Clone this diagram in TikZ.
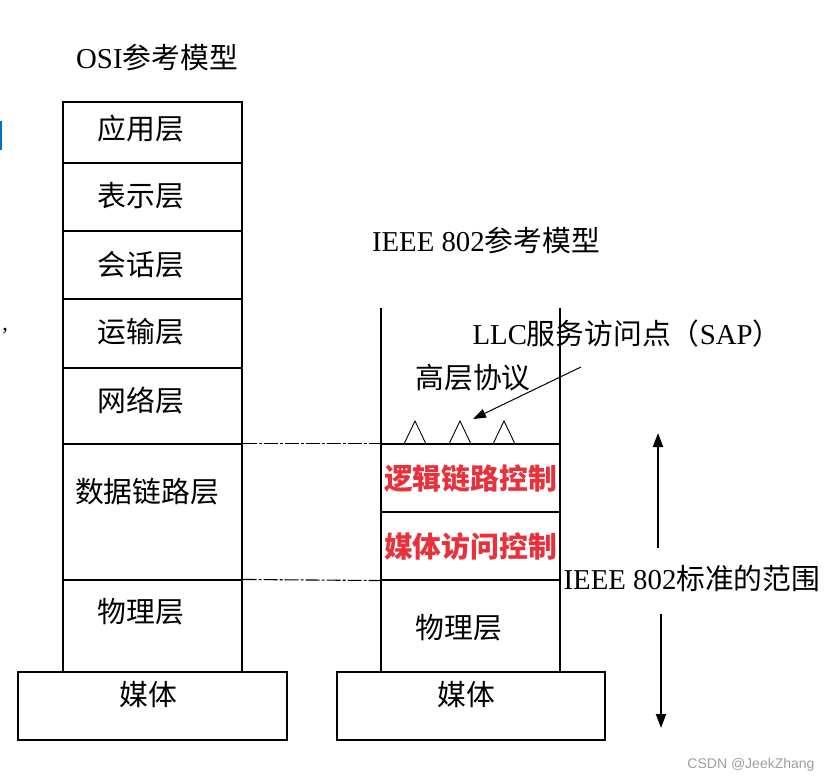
\documentclass[tikz,border=0pt]{standalone}
\usepackage{fontspec}
\setmainfont{Liberation Serif}
\newfontfamily\cjk{Noto Sans CJK SC}
\newfontfamily\wmfont{Liberation Sans}
\usetikzlibrary{arrows.meta}
\definecolor{ctrlred}{HTML}{E8313A}
\definecolor{edgeblue}{HTML}{0070C0}

\begin{document}
\begin{tikzpicture}[
    x=1pt, y=-1pt,
    layer/.style={draw, line width=1.1pt, minimum width=179pt, inner sep=0pt},
    medium/.style={draw, line width=1.1pt, minimum height=68pt, inner sep=0pt},
    lbl/.style={inner sep=0pt, text height=25.5pt, text depth=3pt, font=\fontsize{28.8}{30}\selectfont},
    ctrl/.style={layer, text=ctrlred, text height=25.5pt, text depth=3pt, font=\fontsize{28.8}{30}\selectfont\cjk\bfseries},
    guide/.style={line width=1.1pt, dash pattern=on 14pt off 2pt on 3pt off 2pt},
    >={Triangle[length=14pt,width=10pt]}
]
\useasboundingbox (0,0) rectangle (828,782);

% OSI stack
\node[lbl] (osititle) at (157,57) {OSI{\cjk 参考模型}};
\node[layer, minimum height=61pt] (app)   at (152.5,132.5) {};
\node[layer, minimum height=68pt] (pres)  at (152.5,197) {};
\node[layer, minimum height=68pt] (sess)  at (152.5,265) {};
\node[layer, minimum height=69pt] (trans) at (152.5,333.5) {};
\node[layer, minimum height=76pt] (net)   at (152.5,406) {};
\node[layer, minimum height=136pt] (dl)   at (152.5,512) {};
\node[layer, minimum height=92pt] (phy)   at (152.5,626) {};
\node[lbl] at (141,128) {\cjk 应用层};
\node[lbl] at (141,195) {\cjk 表示层};
\node[lbl] at (141,264) {\cjk 会话层};
\node[lbl] at (141,331) {\cjk 运输层};
\node[lbl] at (141,400) {\cjk 网络层};
\node[lbl] at (147,491) {\cjk 数据链路层};
\node[lbl] at (141,611) {\cjk 物理层};
\node[medium, minimum width=269pt] (mediaL) at (152.5,706) {};
\node[lbl] at (148,694) {\cjk 媒体};

% IEEE 802 stack
\node[lbl] (ieeetitle) at (486,240) {IEEE 802{\cjk 参考模型}};
\node[ctrl, minimum height=68pt] (llc) at (470.5,478) {逻辑链路控制};
\node[ctrl, minimum height=68pt] (mac) at (470.5,546) {媒体访问控制};
\node[medium, minimum width=268pt] (mediaR) at (471,706) {};
\node[lbl] at (466,694) {\cjk 媒体};
\node[lbl] at (459,627) {\cjk 物理层};
\coordinate (railL) at (381,308);
\coordinate (railR) at (560,308);
\draw[line width=1.1pt] (railL) -- (railL |- mediaR.north);
\draw[line width=1.1pt] (railR) -- (railR |- mediaR.north);

% mapping between the two models
\draw[guide] (dl.north east) -- (llc.north west);
\draw[guide] (phy.north east) -- (mac.south west);

% service access points
\foreach \x in {415,460,504}
    \draw[line width=0.9pt] (\x-11,444) -- (\x,421) -- (\x+11,444);
\node[lbl] (upper) at (473,377) {\cjk 高层协议};
\node[lbl] (sap) at (627,333) {LLC{\cjk 服务访问点（}SAP{\cjk ）}};
\coordinate (saptail) at (581,367);
\coordinate (saptip) at (473,419);
\draw[-{Triangle[length=13pt,width=9pt]}, line width=1pt] (saptail) -- (saptip);

% scope of the standard
\node[lbl] (scope) at (692,578) {IEEE 802{\cjk 标准的范围}};
\coordinate (uptail) at (658,548);
\coordinate (uptip) at (658,433);
\coordinate (downtail) at (661,614);
\coordinate (downtip) at (661,728);
\draw[->, line width=2pt] (uptail) -- (uptip);
\draw[->, line width=2pt] (downtail) -- (downtip);

% edge remnants and watermark
\fill[edgeblue] (0,121) rectangle (1.5,150);
\node[inner sep=0pt, font=\fontsize{22}{24}\selectfont] (comma) at (5,331) {,};
\node[inner sep=0pt, text=gray!75, font=\fontsize{14}{15}\selectfont\wmfont] (mark) at (751,765) {CSDN @JeekZhang};
\end{tikzpicture}
\end{document}
